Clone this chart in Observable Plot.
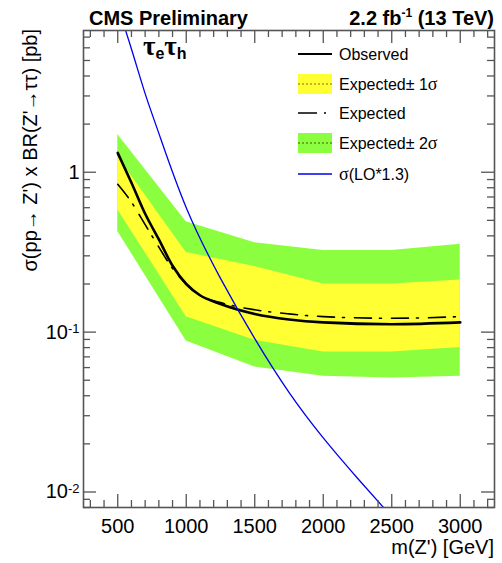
<!DOCTYPE html>
<html><head><meta charset="utf-8">
<script src="https://cdn.jsdelivr.net/npm/d3@7"></script>
<script src="https://cdn.jsdelivr.net/npm/@observablehq/plot@0.6"></script>
<style>
body{margin:0;background:#fff;}
svg{font-family:"Liberation Sans",Arial,Helvetica,sans-serif;}
</style>
</head><body><div id="chart"></div>
<script>
// ---- data ----
const bandMass = [500, 1000, 1500, 2000, 2500, 3000];
const exp2Up = [1.72, 0.49, 0.362, 0.324, 0.324, 0.355];
const exp1Up = [1.25, 0.315, 0.257, 0.2, 0.2, 0.212];
const exp1Dn = [0.583, 0.125, 0.089, 0.075, 0.075, 0.08];
const exp2Dn = [0.426, 0.088, 0.0605, 0.053, 0.0516, 0.053];

const curveMass = [500, 600, 700, 800, 900, 1000, 1100, 1250, 1500, 1750, 2000, 2500, 3000];
const observed = [1.32, 0.86, 0.55, 0.38, 0.26, 0.2, 0.17, 0.15, 0.13, 0.12, 0.115, 0.112, 0.115];
const expected = [0.84, 0.65, 0.47, 0.34, 0.25, 0.2, 0.17, 0.153, 0.138, 0.13, 0.125, 0.122, 0.125];

const theoryMass = [500, 600, 700, 800, 1000, 1250, 1500, 1750, 2000, 2250, 2500];
const theory = [10.9, 5.9, 3.1, 1.75, 0.6, 0.217, 0.091, 0.042, 0.0218, 0.0122, 0.007];

const xTickValues = [500, 1000, 1500, 2000, 2500, 3000];
const xMinorTicks = d3.range(300, 3250, 100);
const yTickValues = [0.01, 0.1, 1];
const yTickLabels = ["10^-2", "10^-1", "1"];
const yMinorTicks = [0.008, 0.009, 0.02, 0.03, 0.04, 0.05, 0.06, 0.07, 0.08, 0.09,
  0.2, 0.3, 0.4, 0.5, 0.6, 0.7, 0.8, 0.9, 2, 3, 4, 5, 6, 7];

const legendLabels = ["Observed", "Expected\u00b1 1", "Expected", "Expected\u00b1 2", ""];

// ---- tables ----
const bands = bandMass.map((m, i) => ({m, e2u: exp2Up[i], e1u: exp1Up[i], e1d: exp1Dn[i], e2d: exp2Dn[i]}));
const obs = curveMass.map((m, i) => ({m, v: observed[i]}));
const expd = curveMass.map((m, i) => ({m, v: expected[i]}));
const theo = theoryMass.map((m, i) => ({m, v: theory[i]}));

// ---- layout ----
const W = 502, H = 563, mL = 83, mR = 8, mT = 30, mB = 56;
const fw = W - mL - mR, fh = H - mT - mB;
const major = 13, minor = 7;
const axisColor = "#555";
const GREEN = "#8bff3f", YELLOW = "#ffff33", BLUE = "#0000ee";
const xMinorOnly = xMinorTicks.filter(d => !xTickValues.includes(d));

const chart = Plot.plot({
  width: W, height: H,
  marginLeft: mL, marginRight: mR, marginTop: mT, marginBottom: mB,
  x: {domain: [250, 3250]},
  y: {type: "log", domain: [0.008, 7.7]},
  style: {fontFamily: '"Liberation Sans",Arial,sans-serif', fontSize: "20px", color: "#000", background: "#fff"},
  marks: [
    Plot.areaY(bands, {x: "m", y1: "e2d", y2: "e2u", fill: GREEN}),
    Plot.areaY(bands, {x: "m", y1: "e1d", y2: "e1u", fill: YELLOW}),
    Plot.line(expd, {x: "m", y: "v", stroke: "#000", strokeWidth: 1.6, strokeDasharray: "17,8,2,10", curve: "monotone-x"}),
    Plot.line(obs, {x: "m", y: "v", stroke: "#000", strokeWidth: 2.6, curve: "monotone-x"}),
    Plot.line(theo, {x: "m", y: "v", stroke: BLUE, strokeWidth: 1.3, curve: "natural", clip: true}),
    Plot.ruleX(xTickValues, {x: d => d, insetTop: fh - major, stroke: axisColor, strokeWidth: 1.3}),
    Plot.ruleX(xTickValues, {x: d => d, insetBottom: fh - major, stroke: axisColor, strokeWidth: 1.3}),
    Plot.ruleX(xMinorOnly, {x: d => d, insetTop: fh - minor, stroke: axisColor, strokeWidth: 1.3}),
    Plot.ruleX(xMinorOnly, {x: d => d, insetBottom: fh - minor, stroke: axisColor, strokeWidth: 1.3}),
    Plot.ruleY(yTickValues, {y: d => d, insetRight: fw - major, stroke: axisColor, strokeWidth: 1.3}),
    Plot.ruleY(yTickValues, {y: d => d, insetLeft: fw - major, stroke: axisColor, strokeWidth: 1.3}),
    Plot.ruleY(yMinorTicks, {y: d => d, insetRight: fw - minor, stroke: axisColor, strokeWidth: 1.3}),
    Plot.ruleY(yMinorTicks, {y: d => d, insetLeft: fw - minor, stroke: axisColor, strokeWidth: 1.3}),
    Plot.frame({stroke: axisColor, strokeWidth: 1.6}),
    Plot.axisX(xTickValues, {tickSize: 0, tickPadding: 11, fontSize: 20, label: null, tickFormat: d => String(d)}),
    Plot.axisY(yTickValues, {tickSize: 0, tickPadding: 4, fontSize: 20, label: null,
      tickFormat: d => yTickLabels[yTickValues.indexOf(d)]})
  ]
});
document.getElementById("chart").appendChild(chart);

const svg = d3.select(chart);

svg.selectAll('g[aria-label="y-axis tick label"] text').each(function() {
  const t = d3.select(this);
  const s = t.text();
  if (s.includes("^")) {
    const [base, exponent] = s.split("^");
    t.text(base);
    t.append("tspan").attr("dy", "-0.45em").attr("font-size", 13).text(exponent);
  }
});

const serif = '"Liberation Serif","DejaVu Serif",serif';
const header = svg.append("g").attr("text-anchor", "start");
header.append("text").attr("x", 89).attr("y", 25).attr("font-size", 20).attr("font-weight", "bold")
  .text("CMS Preliminary");
const lumi = header.append("text").attr("x", W - 8).attr("y", 25).attr("text-anchor", "end")
  .attr("font-size", 20).attr("font-weight", "bold");
lumi.append("tspan").text("2.2 fb");
lumi.append("tspan").attr("dy", -8).attr("font-size", 12).text("-1");
lumi.append("tspan").attr("dy", 8).text(" (13 TeV)");

const ch = header.append("text").attr("x", 143).attr("y", 55).attr("font-weight", "bold");
ch.append("tspan").attr("font-family", serif).attr("font-size", 27).text("\u03c4");
ch.append("tspan").attr("dy", 4).attr("font-size", 16).text("e");
ch.append("tspan").attr("dy", -4).attr("font-family", serif).attr("font-size", 27).text("\u03c4");
ch.append("tspan").attr("dy", 4).attr("font-size", 16).text("h");

svg.append("text").attr("x", W - 8).attr("y", 554).attr("text-anchor", "end").attr("font-size", 20)
  .text("m(Z') [GeV]");
svg.append("text").attr("transform", "translate(37,29) rotate(-90)").attr("text-anchor", "end")
  .attr("font-size", 20).text("\u03c3(pp\u2192 Z') x BR(Z'\u2192\u03c4\u03c4) [pb]");

const lg = svg.append("g").attr("text-anchor", "start");
const lx0 = 298, lx1 = 332, tx = 339;
const rowY = [54, 84, 113, 143, 174];
lg.append("line").attr("x1", lx0).attr("x2", lx1).attr("y1", rowY[0]).attr("y2", rowY[0]).attr("stroke", "#000").attr("stroke-width", 2.2);
lg.append("rect").attr("x", lx0).attr("y", rowY[1] - 10).attr("width", lx1 - lx0).attr("height", 20).attr("fill", YELLOW);
lg.append("line").attr("x1", lx0).attr("x2", lx1).attr("y1", rowY[1]).attr("y2", rowY[1]).attr("stroke", "#8a6a00").attr("stroke-width", 1).attr("stroke-dasharray", "2,2");
lg.append("line").attr("x1", lx0).attr("x2", lx1).attr("y1", rowY[2]).attr("y2", rowY[2]).attr("stroke", "#000").attr("stroke-width", 1.6).attr("stroke-dasharray", "19,7,2,20");
lg.append("rect").attr("x", lx0).attr("y", rowY[3] - 10).attr("width", lx1 - lx0).attr("height", 20).attr("fill", GREEN);
lg.append("line").attr("x1", lx0).attr("x2", lx1).attr("y1", rowY[3]).attr("y2", rowY[3]).attr("stroke", "#3a5a00").attr("stroke-width", 1).attr("stroke-dasharray", "2,2");
lg.append("line").attr("x1", lx0).attr("x2", lx1).attr("y1", rowY[4]).attr("y2", rowY[4]).attr("stroke", BLUE).attr("stroke-width", 1.3);

const addLabel = (i, parts) => {
  const t = lg.append("text").attr("x", tx).attr("y", rowY[i] + 6).attr("font-size", 16);
  parts.forEach(([s, isSerif]) => {
    const sp = t.append("tspan").text(s);
    if (isSerif) sp.attr("font-family", serif).attr("font-size", 18);
  });
};
addLabel(0, [[legendLabels[0], false]]);
addLabel(1, [[legendLabels[1], false], ["\u03c3", true]]);
addLabel(2, [[legendLabels[2], false]]);
addLabel(3, [[legendLabels[3], false], ["\u03c3", true]]);
addLabel(4, [["\u03c3", true], ["(LO*1.3)", false]]);
</script>
</body></html>
